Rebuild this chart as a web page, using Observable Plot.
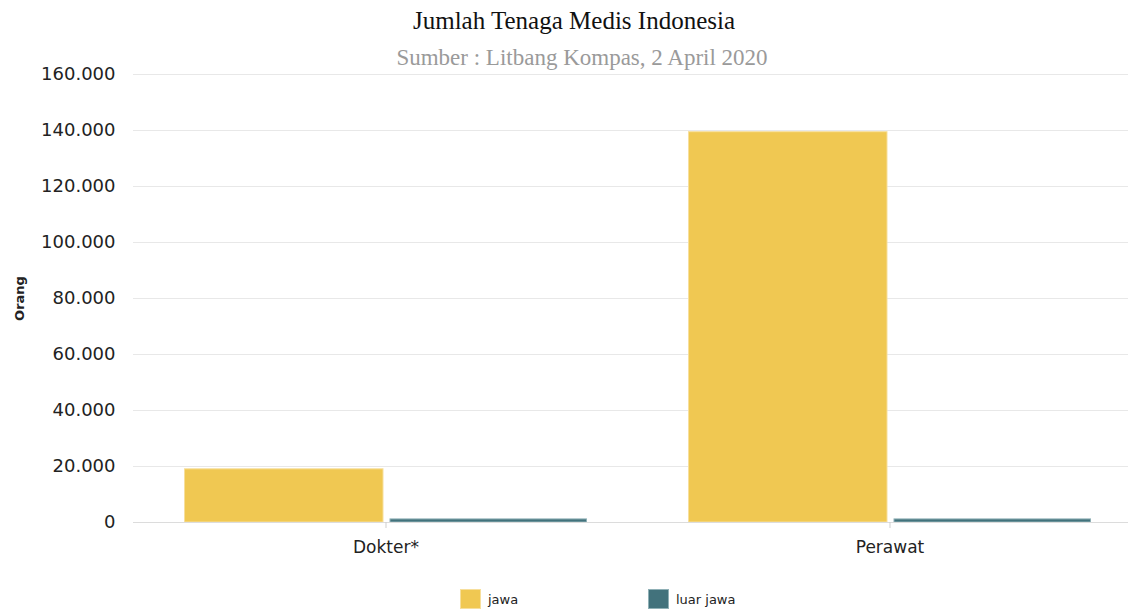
<!DOCTYPE html>
<html>
<head>
<meta charset="utf-8">
<script src="https://cdn.jsdelivr.net/npm/d3@7"></script>
<script src="https://cdn.jsdelivr.net/npm/@observablehq/plot@0.6"></script>
<style>
  html, body { margin: 0; padding: 0; background: #fff; }
  #wrap { position: relative; width: 1128px; height: 610px; overflow: hidden; }
  #title { position: absolute; left: 0; width: 1148px; top: 7px; text-align: center;
    font-family: "Liberation Serif", serif; font-size: 25px; color: #111; }
  #subtitle { position: absolute; left: 0; width: 1164px; top: 45px; text-align: center;
    font-family: "Liberation Serif", serif; font-size: 23px; color: #9a9a9a; }
  #chart { position: absolute; left: 0; top: 0; }
  #legend { position: absolute; top: 589px; left: 460px; display: flex;
    font-family: "DejaVu Sans", sans-serif; font-size: 13px; color: #222; }
  .item { display: flex; align-items: center; width: 188px; }
  .sw { width: 21px; height: 20px; margin-right: 7px; box-sizing: border-box; }
  #chart g[aria-label="y-axis label"] text { font-size: 13px; font-weight: bold; }
  #chart g[aria-label="y-axis tick label"] text { font-size: 18px; }
</style>
</head>
<body>
<div id="wrap">
  <div id="chart"></div>
  <div id="title">Jumlah Tenaga Medis Indonesia</div>
  <div id="subtitle">Sumber : Litbang Kompas, 2 April 2020</div>
  <div id="legend"></div>
</div>
<script>
const categories = ["Dokter*", "Perawat"];
const series = ["jawa", "luar jawa"];
const jawa = [19000, 139400];
const luarJawa = [1100, 1100];
const yTicks = [0, 20000, 40000, 60000, 80000, 100000, 120000, 140000, 160000];
const colors = ["#f0c852", "#42727c"];
const strokes = ["#f7df9c", "#8fb0b6"];

const rows = [];
categories.forEach((c, i) => {
  rows.push({kategori: c, seri: series[0], nilai: jawa[i]});
  rows.push({kategori: c, seri: series[1], nilai: luarJawa[i]});
});

const fmt = d => d3.format(",")(d).replace(/,/g, ".");

const chart = Plot.plot({
  width: 1128,
  height: 575,
  marginLeft: 133,
  marginRight: 0,
  marginTop: 74,
  marginBottom: 53,
  style: {fontFamily: "DejaVu Sans, sans-serif", fontSize: "17px", color: "#222", background: "transparent"},
  x: {domain: categories, range: [133, 1142], paddingInner: 0.2, paddingOuter: 0.1},
  y: {domain: [0, 160000]},
  color: {domain: series, range: colors},
  marks: [
    Plot.gridY(yTicks, {stroke: "#e8e8e8", strokeOpacity: 1}),
    Plot.barY(rows.filter(d => d.seri === series[0]), {
      x: "kategori", y: "nilai", fill: "seri", stroke: strokes[0], strokeWidth: 1,
      insetLeft: 0.5, insetRight: 204
    }),
    Plot.barY(rows.filter(d => d.seri === series[1]), {
      x: "kategori", y: "nilai", fill: "seri", stroke: strokes[1], strokeWidth: 1,
      insetLeft: 206, insetRight: 0.5
    }),
    Plot.ruleY([0], {stroke: "#dcdcdc"}),
    Plot.axisY(yTicks, {tickSize: 0, tickPadding: 18, tickFormat: fmt,
      label: "Orang", labelAnchor: "center", labelOffset: 119, labelArrow: "none"}),
    Plot.axisX({tickSize: 6, tickPadding: 12, stroke: "#cfcfcf", label: null})
  ]
});
chart.querySelectorAll('g[aria-label="x-axis tick label"] text, g[aria-label="y-axis tick label"] text').forEach(t => t.setAttribute("fill", "#222"));
document.getElementById("chart").appendChild(chart);

const legend = document.getElementById("legend");
series.forEach((s, i) => {
  const it = document.createElement("div");
  it.className = "item";
  const sw = document.createElement("div");
  sw.className = "sw";
  sw.style.background = colors[i];
  sw.style.border = "1px solid " + strokes[i];
  const lb = document.createElement("span");
  lb.textContent = s;
  it.appendChild(sw);
  it.appendChild(lb);
  legend.appendChild(it);
});
</script>
</body>
</html>
